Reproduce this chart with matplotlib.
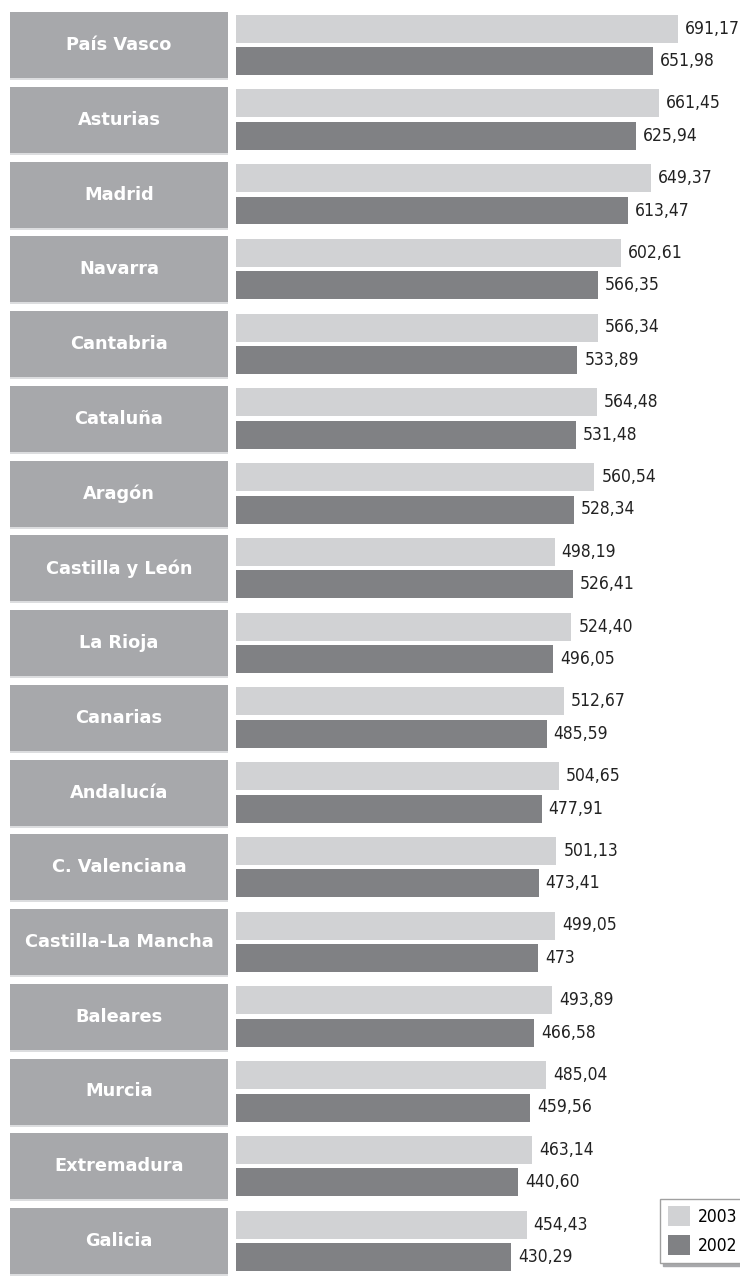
import matplotlib
matplotlib.use("Agg")
import matplotlib.pyplot as plt
from matplotlib.patches import Patch
import numpy as np

regions = ["País Vasco", "Asturias", "Madrid", "Navarra", "Cantabria", "Cataluña",
           "Aragón", "Castilla y León", "La Rioja", "Canarias", "Andalucía",
           "C. Valenciana", "Castilla-La Mancha", "Baleares", "Murcia",
           "Extremadura", "Galicia"]
v2003 = [691.17, 661.45, 649.37, 602.61, 566.34, 564.48, 560.54, 498.19, 524.40,
         512.67, 504.65, 501.13, 499.05, 493.89, 485.04, 463.14, 454.43]
v2002 = [651.98, 625.94, 613.47, 566.35, 533.89, 531.48, 528.34, 526.41, 496.05,
         485.59, 477.91, 473.41, 473.00, 466.58, 459.56, 440.60, 430.29]
series_labels = ["2003", "2002"]

C_LIGHT = "#d1d2d4"
C_DARK = "#808184"
C_BOX = "#a7a8ab"

W, H = 740, 1277
fig = plt.figure(figsize=(W / 100, H / 100), dpi=100)
ax = fig.add_axes([0, 0, 1, 1])
ax.axis("off")

s = 0.6395          # px per unit
x0 = 236            # px of zero
P = 74.75           # row pitch px
c0 = 45             # center of first row px
ax.set_xlim(-x0 / s, (W - x0) / s)
ax.set_ylim((H - c0) / P, -c0 / P)

n = len(regions)
y = np.arange(n)

def fmt(v):
    if abs(v - round(v)) < 1e-9:
        return f"{int(round(v))}"
    return f"{v:.2f}".replace(".", ",")

NUMFONT = dict(family="DejaVu Sans", fontstretch="condensed", fontsize=12.5, color="#222222")

# label boxes
ax.barh(y + 2 / P, width=218 / s, left=-226 / s, height=66 / P, color="#dcdddf", zorder=1)
ax.barh(y, width=218 / s, left=-226 / s, height=66 / P, color=C_BOX, zorder=2)
for i, r in enumerate(regions):
    ax.text((119 - x0) / s, i, r, ha="center", va="center", color="white",
            fontsize=12.8, fontweight="bold", family="DejaVu Sans", zorder=3)

off1 = -16.5 / P
off2 = 16.0 / P
bh = 28 / P
ax.barh(y + off1, v2003, height=bh, color=C_LIGHT, zorder=2)
ax.barh(y + off2, v2002, height=bh, color=C_DARK, zorder=2)

for i in range(n):
    ax.text(v2003[i] + 7 / s, i + off1, fmt(v2003[i]), ha="left", va="center", **NUMFONT)
    ax.text(v2002[i] + 7 / s, i + off2, fmt(v2002[i]), ha="left", va="center", **NUMFONT)

handles = [Patch(facecolor=C_LIGHT, edgecolor="none"), Patch(facecolor=C_DARK, edgecolor="none")]
leg = fig.legend(handles, series_labels, loc="lower left",
                 bbox_to_anchor=(660 / W, (H - 1263) / H), frameon=True, fancybox=False,
                 shadow={"color": "#a7a8ab", "alpha": 1.0}, edgecolor="#a0a0a0",
                 prop={"family": "DejaVu Sans", "stretch": "condensed", "size": 12.5},
                 handlelength=1.3, handleheight=1.4, handletextpad=0.45,
                 borderpad=0.45, labelspacing=0.5, borderaxespad=0)
leg.get_frame().set_linewidth(1.0)

fig.savefig("out.png", dpi=100, facecolor="white")
